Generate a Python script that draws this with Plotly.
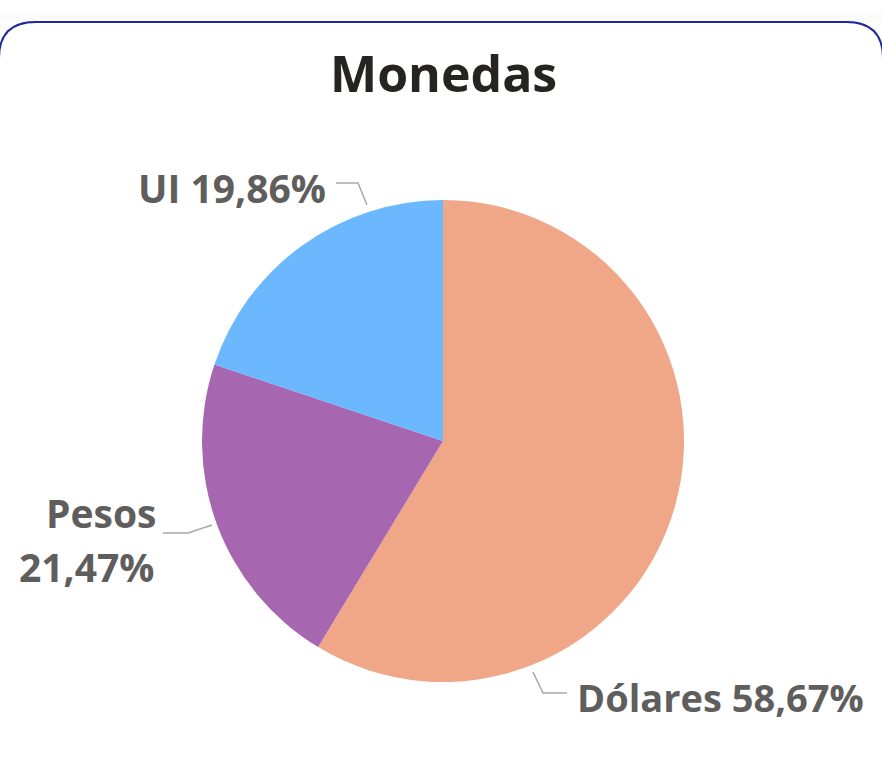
import plotly.graph_objects as go

# ---- data ----
categories = ["Dólares", "Pesos", "UI"]
values = [58.67, 21.47, 19.86]
colors = ["#F0A787", "#A666B0", "#6CB8FF"]
title_text = "Monedas"

W, H = 882, 775
cx, cy, R = 443, 441, 241  # pie centre / radius in pixels (layout)


def px(x):
    return x / W


def py(y):
    return 1 - y / H


def fmt(v):
    return f"{v:.2f}".replace(".", ",") + "%"


fig = go.Figure()
fig.add_trace(go.Pie(
    labels=categories,
    values=values,
    sort=False,
    direction="clockwise",
    rotation=0,
    marker=dict(colors=colors, line=dict(width=0)),
    textinfo="none",
    hoverinfo="label+percent",
    showlegend=False,
    domain=dict(x=[px(cx - R), px(cx + R)], y=[py(cy + R), py(cy - R)]),
))

label_color = "#605E5C"
lfont = dict(family="Open Sans, Noto Sans, sans-serif", size=39, color=label_color, weight="bold")

annotations = [
    dict(text=title_text, x=px(443), y=py(73), xref="paper", yref="paper", showarrow=False,
         xanchor="center", yanchor="middle",
         font=dict(family="Open Sans, Noto Sans, sans-serif", size=50, color="#252423", weight="bold")),
    dict(text=f"{categories[2]} {fmt(values[2])}", x=px(328), y=py(187), xref="paper", yref="paper",
         showarrow=False, xanchor="right", yanchor="middle", font=lfont),
    dict(text=categories[1], x=px(158), y=py(512), xref="paper", yref="paper",
         showarrow=False, xanchor="right", yanchor="middle", font=lfont),
    dict(text=fmt(values[1]), x=px(156), y=py(566), xref="paper", yref="paper",
         showarrow=False, xanchor="right", yanchor="middle", font=lfont),
    dict(text=f"{categories[0]} {fmt(values[0])}", x=px(575), y=py(697), xref="paper", yref="paper",
         showarrow=False, xanchor="left", yanchor="middle", font={**lfont, "size": 38}),
]

leader_lines = [
    [(336, 183), (358, 183), (367, 205)],
    [(163, 533), (188, 533), (212, 525)],
    [(533, 672), (543, 693), (567, 693)],
]

shapes = []
for pts in leader_lines:
    path = "M " + " L ".join(f"{px(x)},{py(y)}" for x, y in pts)
    shapes.append(dict(type="path", path=path, xref="paper", yref="paper",
                       line=dict(color="#A8A8A8", width=1.5)))

# soft shadow above the card
shapes.append(dict(type="rect", x0=0, x1=1, y0=py(22), y1=py(12), xref="paper", yref="paper",
                   fillcolor="rgba(0,0,0,0.015)", line=dict(width=0), layer="below"))
# card border (rounded top)
r = 36
card = (f"M {px(-1)},{py(160)} L {px(-1)},{py(22 + r)} Q {px(-1)},{py(22)} {px(r)},{py(22)} "
        f"L {px(W - r)},{py(22)} Q {px(W + 1)},{py(22)} {px(W + 1)},{py(22 + r)} L {px(W + 1)},{py(160)}")
shapes.append(dict(type="path", path=card, xref="paper", yref="paper",
                   fillcolor="white", line=dict(color="#1F2A9A", width=2), layer="below"))

fig.update_layout(
    width=W, height=H,
    margin=dict(l=0, r=0, t=0, b=0),
    paper_bgcolor="white",
    plot_bgcolor="white",
    annotations=annotations,
    shapes=shapes,
)

fig.write_html("out.html", config={"displayModeBar": False},
               post_script="document.body.style.margin='0';document.body.style.overflow='hidden';")
